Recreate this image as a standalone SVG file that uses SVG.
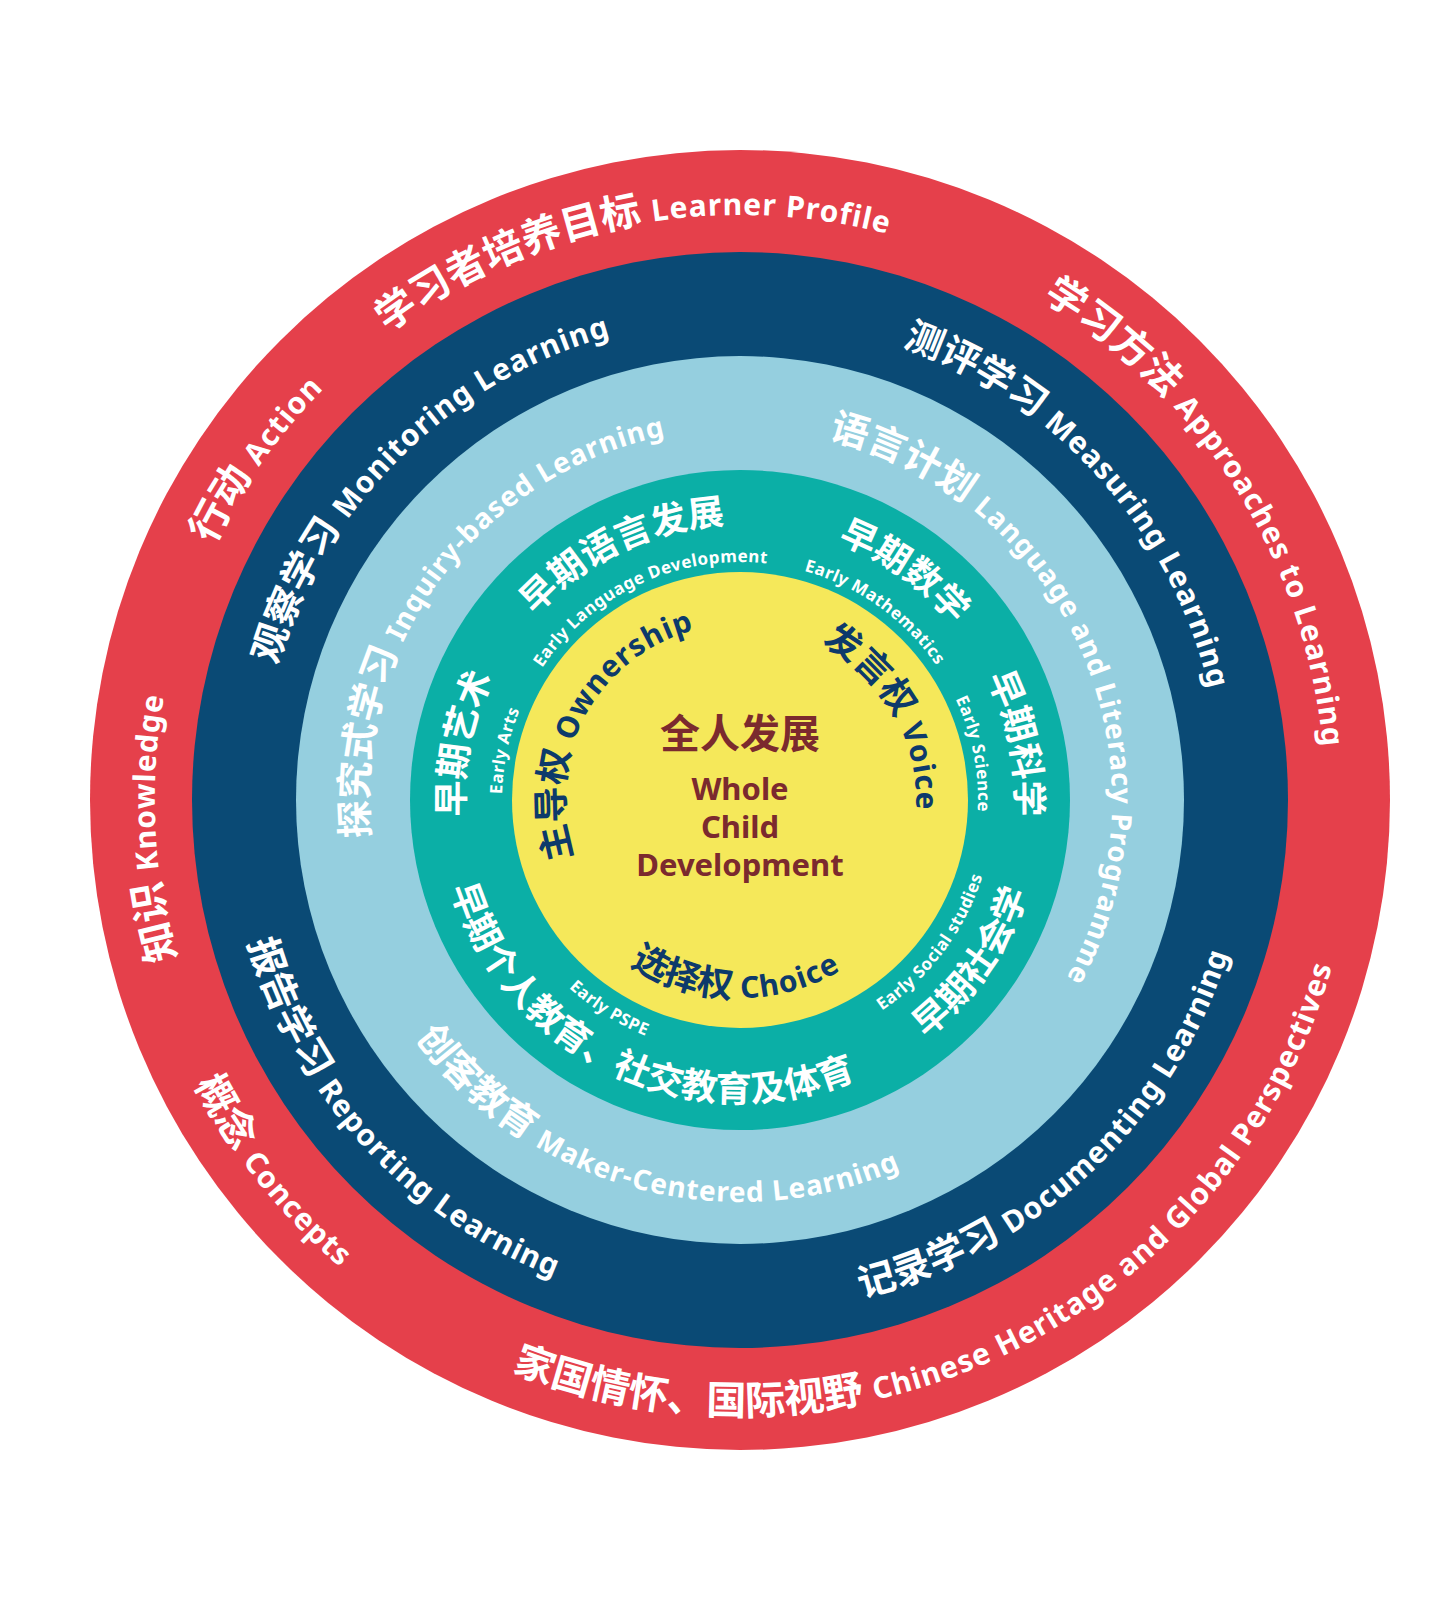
<svg xmlns="http://www.w3.org/2000/svg" width="1452" height="1603" viewBox="0 0 1452 1603">
<style>
text{font-family:"Noto Sans","Noto Sans CJK SC",sans-serif;font-weight:700}
.w{fill:#ffffff}
.b{fill:#0d3a6b}
.m{fill:#7b2a2e}
.c40{font-size:40px}.e30{font-size:30px;letter-spacing:1px}
.c38{font-size:38px}.e28{font-size:28px;letter-spacing:1px}
.c36{font-size:36px}.e17{font-size:17px;letter-spacing:0.5px}
</style>
<defs>
<path id="cw585" d="M740,1385 A585,585 0 1 1 740,215 A585,585 0 1 1 740,1385"/>
<path id="cw482" d="M740,1282 A482,482 0 1 1 740,318 A482,482 0 1 1 740,1282"/>
<path id="cw372" d="M740,1172 A372,372 0 1 1 740,428 A372,372 0 1 1 740,1172"/>
<path id="cw276" d="M740,1076 A276,276 0 1 1 740,524 A276,276 0 1 1 740,1076"/>
<path id="cw238" d="M740,1038 A238,238 0 1 1 740,562 A238,238 0 1 1 740,1038"/>
<path id="cw176" d="M740,976 A176,176 0 1 1 740,624 A176,176 0 1 1 740,976"/>
<path id="ccw615" d="M740,185 A615,615 0 1 0 740,1415 A615,615 0 1 0 740,185"/>
<path id="ccw512" d="M740,288 A512,512 0 1 0 740,1312 A512,512 0 1 0 740,288"/>
<path id="ccw402" d="M740,398 A402,402 0 1 0 740,1202 A402,402 0 1 0 740,398"/>
<path id="ccw302" d="M740,498 A302,302 0 1 0 740,1102 A302,302 0 1 0 740,498"/>
<path id="ccw254" d="M740,546 A254,254 0 1 0 740,1054 A254,254 0 1 0 740,546"/>
<path id="ccw198" d="M740,602 A198,198 0 1 0 740,998 A198,198 0 1 0 740,602"/>
</defs>
<g id="rings">
<circle cx="740" cy="800" r="650" fill="#e5404b"/>
<circle cx="740" cy="800" r="548" fill="#0a4a75"/>
<circle cx="740" cy="800" r="444" fill="#95cfdf"/>
<circle cx="740" cy="800" r="330" fill="#0bafa6"/>
<circle cx="740" cy="800" r="228" fill="#f5e85a"/>
</g>
<g id="red-ring-texts" class="w">
<text text-anchor="middle"><textPath href="#cw585" startOffset="46.9%"><tspan class="c40">学习者培养目标 </tspan><tspan class="e30">Learner Profile</tspan></textPath></text>
<text text-anchor="middle"><textPath href="#cw585" startOffset="66.1%"><tspan class="c40">学习方法 </tspan><tspan class="e30">Approaches to Learning</tspan></textPath></text>
<text text-anchor="middle"><textPath href="#cw585" startOffset="34.8%"><tspan class="c40">行动 </tspan><tspan class="e30">Action</tspan></textPath></text>
<text text-anchor="middle"><textPath href="#cw585" startOffset="24.25%"><tspan class="c40">知识 </tspan><tspan class="e30">Knowledge</tspan></textPath></text>
<text text-anchor="middle"><textPath href="#ccw615" startOffset="35.7%"><tspan class="c40">概念 </tspan><tspan class="e30">Concepts</tspan></textPath></text>
<text text-anchor="middle"><textPath href="#ccw615" startOffset="57.3%"><tspan class="c40">家国情怀、国际视野 </tspan><tspan class="e30">Chinese Heritage and Global Perspectives</tspan></textPath></text>
</g>
<g id="dark-ring-texts" class="w">
<text text-anchor="middle"><textPath href="#cw482" startOffset="37.6%"><tspan class="c38">观察学习 </tspan><tspan class="e30">Monitoring Learning</tspan></textPath></text>
<text text-anchor="middle"><textPath href="#cw482" startOffset="63.4%"><tspan class="c38">测评学习 </tspan><tspan class="e30">Measuring Learning</tspan></textPath></text>
<text text-anchor="middle"><textPath href="#ccw512" startOffset="62%"><tspan class="c38">记录学习 </tspan><tspan class="e30">Documenting Learning</tspan></textPath></text>
<text text-anchor="middle"><textPath href="#ccw512" startOffset="36.8%"><tspan class="c38">报告学习 </tspan><tspan class="e30">Reporting Learning</tspan></textPath></text>
</g>
<g id="light-ring-texts" class="w">
<text text-anchor="middle"><textPath href="#cw372" startOffset="35.1%"><tspan class="c38">探究式学习 </tspan><tspan class="e28">Inquiry-based Learning</tspan></textPath></text>
<text text-anchor="middle"><textPath href="#cw372" startOffset="68.4%"><tspan class="c38">语言计划 </tspan><tspan class="e28">Language and Literacy Programme</tspan></textPath></text>
<text text-anchor="middle"><textPath href="#ccw402" startOffset="45.8%"><tspan class="c38">创客教育 </tspan><tspan class="e28">Maker-Centered Learning</tspan></textPath></text>
</g>
<g id="teal-ring-texts" class="w">
<text text-anchor="middle" class="c36"><textPath href="#cw276" startOffset="42.9%">早期语言发展</textPath></text>
<text text-anchor="middle" class="e17"><textPath href="#cw238" startOffset="43.1%">Early Language Development</textPath></text>
<text text-anchor="middle" class="c36"><textPath href="#cw276" startOffset="59.9%">早期数学</textPath></text>
<text text-anchor="middle" class="e17"><textPath href="#cw238" startOffset="59.9%">Early Mathematics</textPath></text>
<text text-anchor="middle" class="c36"><textPath href="#cw276" startOffset="71.8%">早期科学</textPath></text>
<text text-anchor="middle" class="e17"><textPath href="#cw238" startOffset="71.9%">Early Science</textPath></text>
<text text-anchor="middle" class="c36"><textPath href="#cw276" startOffset="28.2%">早期艺术</textPath></text>
<text text-anchor="middle" class="e17"><textPath href="#cw238" startOffset="28.3%">Early Arts</textPath></text>
<text text-anchor="middle" class="c36"><textPath href="#ccw302" startOffset="65.3%">早期社会学</textPath></text>
<text text-anchor="middle" class="e17"><textPath href="#ccw254" startOffset="64.8%">Early Social studies</textPath></text>
<text text-anchor="middle" class="c36"><textPath href="#ccw302" startOffset="43%">早期个人教育、社交教育及体育</textPath></text>
<text text-anchor="middle" class="e17"><textPath href="#ccw254" startOffset="41.1%">Early PSPE</textPath></text>
</g>
<g id="yellow-core-texts" class="b">
<text text-anchor="middle"><textPath href="#cw176" startOffset="32.8%"><tspan class="c36">主导权 </tspan><tspan class="e30">Ownership</tspan></textPath></text>
<text text-anchor="middle"><textPath href="#cw176" startOffset="66.8%"><tspan class="c36">发言权 </tspan><tspan class="e30">Voice</tspan></textPath></text>
<text text-anchor="middle"><textPath href="#ccw198" startOffset="49.6%"><tspan class="c36">选择权 </tspan><tspan class="e30">Choice</tspan></textPath></text>
</g>
<g id="center" class="m" text-anchor="middle">
<text x="740" y="748" font-size="40">全人发展</text>
<text x="740" y="800" font-size="31">Whole</text>
<text x="740" y="838" font-size="31">Child</text>
<text x="740" y="876" font-size="31">Development</text>
</g>
<g id="connectors"/>
</svg>
